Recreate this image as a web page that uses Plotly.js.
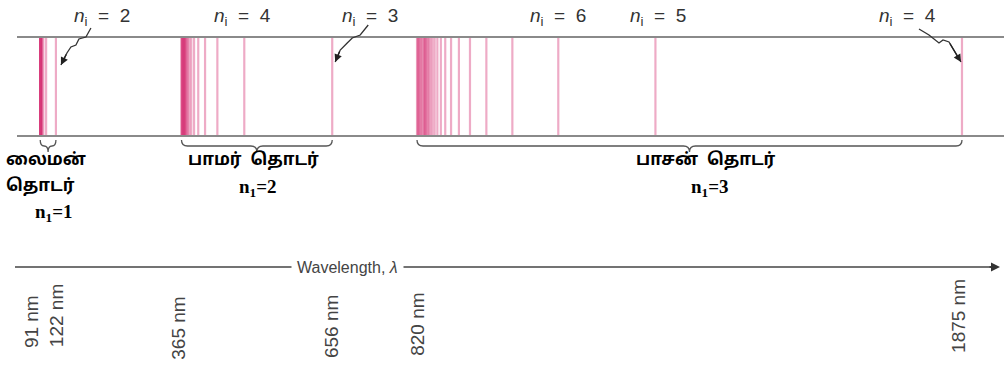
<!DOCTYPE html>
<html>
<head>
<meta charset="utf-8">
<script src="https://cdn.plot.ly/plotly-3.0.1.min.js"></script>
<style>
  html, body { margin: 0; padding: 0; background: #fff; }
  #chart { width: 1004px; height: 378px; }
</style>
</head>
<body>
<div id="chart"></div>
<script>
// ---- Data (wavelengths in nm) ----
const lymanNm   = [121.6, 102.6, 97.3, 95.0, 93.8, 93.1, 92.6, 92.3, 92.1, 91.9, 91.8, 91.7, 91.6, 91.5, 91.4, 91.3, 91.2];
const balmerNm  = [656.3, 486.1, 434.0, 410.2, 397.0, 388.9, 383.5, 379.8, 377.1, 375.0, 373.4, 372.2, 371.2, 370.4, 369.7, 369.2, 368.7, 368.3, 367.1, 366.2, 365.6, 365.1, 364.6];
const paschenNm = [1875.1, 1281.8, 1093.8, 1004.9, 954.6, 922.9, 901.5, 886.3, 875.0, 866.5, 859.8, 854.5, 850.3, 846.7, 843.8, 841.3, 839.2, 837.4, 835.9, 834.5, 833.4, 830.5, 828.7, 826.5, 824.6, 823.0, 821.8, 820.4];

const tickNm   = [91, 122, 365, 656, 820, 1875];
const tickText = ['91 nm', '122 nm', '365 nm', '656 nm', '820 nm', '1875 nm'];

// transition labels: [wavelength of marked line, label]
const markNm    = [121.6, 486.1, 656.3, 1093.8, 1281.8, 1875.1];
const markLabel = ['2', '4', '3', '6', '5', '4'];

const seriesName = ['லைமன்', 'பாமர்', 'பாசன்'];
const seriesWord = 'தொடர்';
const seriesN1   = ['1', '2', '3'];

// ---- Layout helpers ----
const W = 1004, H = 378;
const xRange = [13.35, 1956.4];
const pxPerNm = W / (xRange[1] - xRange[0]);
const yTop = 37, yBot = 136;

const traces = [];
[lymanNm, balmerNm, paschenNm].forEach(series => {
  series.forEach(l => {
    traces.push({
      x: [l, l], y: [yTop, yBot], mode: 'lines', type: 'scatter',
      line: { color: 'rgba(215,55,120,0.42)', width: 2.2 },
      hoverinfo: 'skip', showlegend: false
    });
  });
});

const shapes = [];
// spectrum frame lines
[yTop, yBot].forEach(y => shapes.push({
  type: 'line', xref: 'paper', yref: 'y', x0: 17 / W, x1: 1, y0: y, y1: y,
  line: { color: '#8a8a8a', width: 2 }
}));

// braces
function brace(a, b) {
  const m = (a + b) / 2;
  let r = 6 / pxPerNm;
  r = Math.min(r, (b - a) / 4);
  const y0 = 140, y1 = 146, y2 = 152;
  const p = `M ${a},${y0} Q ${a},${y1} ${a + r},${y1} L ${m - r},${y1} Q ${m},${y1} ${m},${y2} ` +
            `Q ${m},${y1} ${m + r},${y1} L ${b - r},${y1} Q ${b},${y1} ${b},${y0}`;
  shapes.push({ type: 'path', xref: 'x', yref: 'y', path: p, line: { color: '#555', width: 1.3 } });
  return m;
}
const mids = [lymanNm, balmerNm, paschenNm].map(s => brace(Math.min(...s), Math.max(...s)));

// squiggle arrows (pixel offsets from the marked line)
function squiggle(l, pts) {
  const p = 'M ' + pts.map(q => q[0] + ',' + q[1]).join(' L ');
  shapes.push({ type: 'path', xref: 'x', yref: 'y', xsizemode: 'pixel', xanchor: l,
    path: p, line: { color: '#333', width: 1.3 } });
}
const sqPts = {
  0: [[35, 28], [30, 37], [23, 39], [20, 45], [15, 47], [11, 53], [5, 65]],
  2: [[36, 25], [28, 35], [20, 38], [15, 43], [8, 50], [3, 62]],
  5: [[-43, 29], [-33, 35], [-23, 43], [-19, 40], [-13, 42], [-1, 62]]
};

// wavelength axis
shapes.push({ type: 'line', xref: 'paper', yref: 'y', x0: 15 / W, x1: 993 / W, y0: 267, y1: 267,
  line: { color: '#444', width: 1.5 } });

const annotations = [];
Object.keys(sqPts).forEach(k => {
  const pts = sqPts[k];
  squiggle(markNm[k], pts);
  const tip = pts[pts.length - 1], tail = pts[pts.length - 2];
  annotations.push({ x: markNm[k], y: tip[1], xref: 'x', yref: 'y', xshift: tip[0], text: '',
    showarrow: true, ax: tail[0] - tip[0], ay: tail[1] - tip[1],
    arrowhead: 2, arrowsize: 1.1, arrowwidth: 1.4, arrowcolor: '#222' });
});

const markShift = [46, -2, 38, 0, 3, -54];
markNm.forEach((l, i) => annotations.push({
  x: l, y: 17, xref: 'x', yref: 'y', xshift: markShift[i], showarrow: false,
  text: `<i>n</i><sub>i</sub>&nbsp;&nbsp;=&nbsp;&nbsp;${markLabel[i]}`,
  font: { family: 'Liberation Sans, Arial, sans-serif', size: 19, color: '#333' }
}));

// series labels
const tamilFont = { family: "'Noto Sans Tamil', 'Lohit Tamil', 'Noto Serif Tamil', serif", size: 17, color: '#000', weight: 'bold' };
const nFont = { family: 'Liberation Serif, Times New Roman, serif', size: 19, color: '#000', weight: 'bold' };
// Lyman (stacked, left aligned)
annotations.push({ x: 4 / W, y: 160, xref: 'paper', yref: 'y', xanchor: 'left', showarrow: false,
  text: `<b>${seriesName[0]}</b>`, font: tamilFont });
annotations.push({ x: 4 / W, y: 186, xref: 'paper', yref: 'y', xanchor: 'left', showarrow: false,
  text: `<b>${seriesWord}</b>`, font: tamilFont });
annotations.push({ x: mids[0], y: 213, xref: 'x', yref: 'y', xshift: 6, showarrow: false,
  text: `<b>n<sub>1</sub>=${seriesN1[0]}</b>`, font: nFont });
// Balmer, Paschen
[[1, -3], [2, 16]].forEach(([i, sh]) => {
  annotations.push({ x: mids[i], y: 160, xref: 'x', yref: 'y', xshift: sh, showarrow: false,
    text: `<b>${seriesName[i]}  ${seriesWord}</b>`, font: tamilFont });
  annotations.push({ x: mids[i], y: 188, xref: 'x', yref: 'y', xshift: sh + 4, showarrow: false,
    text: `<b>n<sub>1</sub>=${seriesN1[i]}</b>`, font: nFont });
});

// axis title with white background interrupting the line
annotations.push({ x: 347 / W, y: 267, xref: 'paper', yref: 'y', showarrow: false,
  text: 'Wavelength, <i>λ</i>', bgcolor: '#fff', borderpad: 5,
  font: { family: 'Liberation Sans, Arial, sans-serif', size: 16, color: '#444' } });
// arrow head
annotations.push({ x: 1000 / W, y: 267, xref: 'paper', yref: 'y', text: '', showarrow: true,
  ax: -12, ay: 0, arrowhead: 2, arrowsize: 1.2, arrowwidth: 1.5, arrowcolor: '#333' });

// tick labels
const tickShift = [-9, 0, -4, -1, 0, -4];
const tickY = [322, 316, 328, 327, 324, 316];
tickNm.forEach((t, i) => annotations.push({
  x: t, y: tickY[i], xref: 'x', yref: 'y', xshift: tickShift[i], showarrow: false, textangle: -90,
  text: tickText[i], font: { family: 'Liberation Sans, Arial, sans-serif', size: 19, color: '#444' }
}));

const layout = {
  width: W, height: H,
  margin: { l: 0, r: 0, t: 0, b: 0 },
  paper_bgcolor: '#fff', plot_bgcolor: '#fff',
  xaxis: { range: xRange, visible: false, fixedrange: true },
  yaxis: { range: [H, 0], visible: false, fixedrange: true },
  shapes, annotations, showlegend: false
};

Plotly.newPlot('chart', traces, layout, { staticPlot: true });
</script>
</body>
</html>
